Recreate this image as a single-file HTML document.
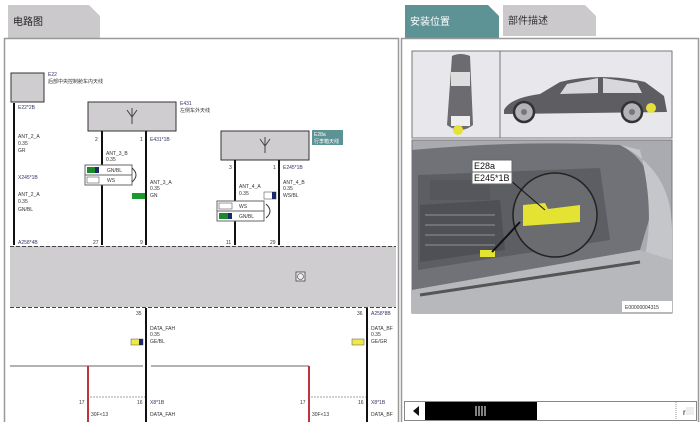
<!DOCTYPE html>
<html><head><meta charset="utf-8"><style>
html,body{margin:0;padding:0;background:#fff;width:700px;height:422px;overflow:hidden}
svg text{font-family:"Liberation Sans","Noto Sans CJK SC",sans-serif}
</style></head><body>
<svg width="700" height="422" viewBox="0 0 700 422" xmlns="http://www.w3.org/2000/svg">
<!-- tabs -->
<path d="M8 5 H89 L100 16 V38 H8 Z" fill="#ccc9cc"/>
<text x="13" y="25" font-size="10" fill="#222">电路图</text>
<path d="M405 5 H488 L499 16 V38 H405 Z" fill="#5e9396"/>
<text x="410" y="25" font-size="10" fill="#fff">安装位置</text>
<path d="M503 5 H585 L596 16 V36 H503 Z" fill="#ccc9cc"/>
<text x="508" y="24" font-size="10" fill="#333">部件描述</text>
<!-- panels -->
<rect x="4.5" y="38.5" width="394" height="390" fill="#fff" stroke="#999" stroke-width="1.5"/>
<rect x="401.5" y="38.5" width="297" height="390" fill="#fff" stroke="#999" stroke-width="1.5"/>

<!-- E22 -->
<rect x="11" y="73" width="33" height="29" fill="#d0cdd0" stroke="#333"/>
<text x="48" y="76" font-size="5" fill="#336">E22</text>
<text x="48" y="83" font-size="5" fill="#333">后部中央控制舱车内天线</text>
<line x1="14" y1="103" x2="14" y2="245" stroke="#111" stroke-width="2"/>
<text x="18" y="109" font-size="5" fill="#336">E22*2B</text>
<text x="18" y="138" font-size="5" fill="#333">ANT_2_A</text>
<text x="18" y="145" font-size="5" fill="#333">0.35</text>
<text x="18" y="152" font-size="5" fill="#333">GR</text>
<text x="18" y="179" font-size="5" fill="#336">X245*1B</text>
<text x="18" y="196" font-size="5" fill="#333">ANT_2_A</text>
<text x="18" y="203" font-size="5" fill="#333">0.35</text>
<text x="18" y="211" font-size="5" fill="#333">GN/BL</text>
<text x="18" y="244" font-size="5" fill="#336">A258*4B</text>

<!-- E431 -->
<rect x="88" y="102" width="88" height="29" fill="#d0cdd0" stroke="#333"/>
<path d="M132 108 V124 M127 110 L132 117 L137 110" stroke="#444" fill="none"/>
<text x="180" y="105" font-size="5" fill="#336">E431</text>
<text x="180" y="112" font-size="5" fill="#333">左侧车外天线</text>
<line x1="102" y1="131" x2="102" y2="245" stroke="#111" stroke-width="2"/>
<line x1="146" y1="131" x2="146" y2="245" stroke="#111" stroke-width="2"/>
<text x="95" y="141" font-size="5" fill="#333">2</text>
<text x="140" y="141" font-size="5" fill="#333">1</text>
<text x="150" y="141" font-size="5" fill="#336">E431*1B</text>
<text x="106" y="155" font-size="5" fill="#333">ANT_3_B</text>
<text x="106" y="161" font-size="5" fill="#333">0.35</text>
<rect x="85" y="165" width="47" height="20" fill="#fff" stroke="#666"/>
<line x1="85" y1="175" x2="132" y2="175" stroke="#666"/>
<rect x="87" y="167" width="12" height="6" fill="#1a8a2a"/><rect x="95" y="167" width="4" height="6" fill="#1b2a6a"/>
<rect x="87" y="177" width="12" height="6" fill="#fff" stroke="#555" stroke-width=".6"/>
<text x="107" y="172" font-size="5" fill="#333">GN/BL</text>
<text x="107" y="182" font-size="5" fill="#333">WS</text>
<path d="M132 168 Q140 175 132 182" stroke="#333" fill="none"/>
<text x="150" y="184" font-size="5" fill="#333">ANT_3_A</text>
<text x="150" y="190" font-size="5" fill="#333">0.35</text>
<rect x="132" y="193" width="13" height="6" fill="#1a9a2a"/>
<text x="150" y="197" font-size="5" fill="#333">GN</text>
<text x="93" y="244" font-size="5" fill="#333">27</text>
<text x="140" y="244" font-size="5" fill="#333">9</text>

<!-- E28a -->
<rect x="221" y="131" width="88" height="29" fill="#d0cdd0" stroke="#333"/>
<path d="M265 137 V153 M260 139 L265 146 L270 139" stroke="#444" fill="none"/>
<rect x="312" y="130" width="31" height="15" fill="#5e9396"/>
<text x="314" y="136" font-size="5" fill="#fff">E28a</text>
<text x="314" y="143" font-size="5" fill="#fff">行李箱天线</text>
<line x1="235" y1="160" x2="235" y2="245" stroke="#111" stroke-width="2"/>
<line x1="279" y1="160" x2="279" y2="245" stroke="#111" stroke-width="2"/>
<text x="229" y="169" font-size="5" fill="#333">3</text>
<text x="273" y="169" font-size="5" fill="#333">1</text>
<text x="283" y="169" font-size="5" fill="#336">E245*1B</text>
<text x="239" y="188" font-size="5" fill="#333">ANT_4_A</text>
<text x="239" y="195" font-size="5" fill="#333">0.35</text>
<rect x="264" y="192" width="12" height="7" fill="#fff" stroke="#555" stroke-width=".6"/><rect x="272" y="192" width="4" height="7" fill="#1b2a6a"/>
<text x="283" y="184" font-size="5" fill="#333">ANT_4_B</text>
<text x="283" y="190" font-size="5" fill="#333">0.35</text>
<text x="283" y="197" font-size="5" fill="#333">WS/BL</text>
<rect x="217" y="201" width="47" height="20" fill="#fff" stroke="#666"/>
<line x1="217" y1="211" x2="264" y2="211" stroke="#666"/>
<rect x="219" y="203" width="13" height="6" fill="#fff" stroke="#555" stroke-width=".6"/>
<rect x="219" y="213" width="13" height="6" fill="#1a8a2a"/><rect x="228" y="213" width="4" height="6" fill="#1b2a6a"/>
<text x="239" y="208" font-size="5" fill="#333">WS</text>
<text x="239" y="218" font-size="5" fill="#333">GN/BL</text>
<path d="M266 204 Q274 211 266 218" stroke="#333" fill="none"/>
<text x="226" y="244" font-size="5" fill="#333">11</text>
<text x="270" y="244" font-size="5" fill="#333">29</text>

<!-- module -->
<rect x="10" y="246" width="386" height="61" fill="#d0cdd0"/>
<line x1="10" y1="246.5" x2="396" y2="246.5" stroke="#444" stroke-dasharray="4 2"/>
<line x1="10" y1="307.5" x2="396" y2="307.5" stroke="#444" stroke-dasharray="4 2"/>
<rect x="296" y="272" width="9" height="9" fill="#eee" stroke="#444" stroke-width=".8"/>
<circle cx="300.5" cy="276.5" r="3" fill="none" stroke="#444" stroke-width=".6"/>

<!-- below -->
<line x1="146" y1="308" x2="146" y2="422" stroke="#111" stroke-width="2"/>
<line x1="367" y1="308" x2="367" y2="422" stroke="#111" stroke-width="2"/>
<text x="136" y="315" font-size="5" fill="#333">35</text>
<text x="357" y="315" font-size="5" fill="#333">36</text>
<text x="371" y="315" font-size="5" fill="#336">A258*8B</text>
<text x="150" y="330" font-size="5" fill="#333">DATA_FAH</text>
<text x="150" y="336" font-size="5" fill="#333">0.35</text>
<text x="150" y="343" font-size="5" fill="#333">GE/BL</text>
<rect x="131" y="339" width="12" height="6" fill="#f0e84a" stroke="#555" stroke-width=".5"/><rect x="139" y="339" width="4" height="6" fill="#1b2a6a"/>
<text x="371" y="330" font-size="5" fill="#333">DATA_BF</text>
<text x="371" y="336" font-size="5" fill="#333">0.35</text>
<text x="371" y="343" font-size="5" fill="#333">GE/GR</text>
<rect x="352" y="339" width="12" height="6" fill="#f0e84a" stroke="#555" stroke-width=".5"/>
<line x1="10" y1="366" x2="143" y2="366" stroke="#333" stroke-width=".8"/>
<line x1="151" y1="366" x2="309" y2="366" stroke="#333" stroke-width=".8"/>
<line x1="88" y1="366" x2="88" y2="422" stroke="#c0333a" stroke-width="2"/>
<line x1="309" y1="366" x2="309" y2="422" stroke="#c0333a" stroke-width="2"/>
<line x1="90" y1="397" x2="145" y2="397" stroke="#444" stroke-width=".6" stroke-dasharray="2 1"/>
<line x1="311" y1="397" x2="366" y2="397" stroke="#444" stroke-width=".6" stroke-dasharray="2 1"/>
<text x="79" y="404" font-size="5" fill="#333">17</text>
<text x="137" y="404" font-size="5" fill="#333">16</text>
<text x="150" y="404" font-size="5" fill="#336">X8*1B</text>
<text x="300" y="404" font-size="5" fill="#333">17</text>
<text x="358" y="404" font-size="5" fill="#333">16</text>
<text x="371" y="404" font-size="5" fill="#336">X8*1B</text>
<text x="91" y="416" font-size="5" fill="#333">30F&lt;13</text>
<text x="150" y="416" font-size="5" fill="#333">DATA_FAH</text>
<text x="312" y="416" font-size="5" fill="#333">30F&lt;13</text>
<text x="371" y="416" font-size="5" fill="#333">DATA_BF</text>

<!-- right images -->
<rect x="412" y="51" width="260" height="87" fill="#e8e8ec" stroke="#777"/>
<line x1="500" y1="51" x2="500" y2="138" stroke="#777"/>
<path d="M452 56 Q460 52 470 56 L473 125 Q460 135 447 125 Z" fill="#6c6c70"/>
<rect x="451" y="72" width="19" height="14" fill="#ddd"/>
<rect x="451" y="116" width="19" height="10" fill="#eee"/>
<circle cx="458" cy="130" r="5" fill="#e6e03a"/>
<path d="M504 110 Q510 98 540 94 L560 82 Q600 72 645 82 L664 96 L667 112 L504 114 Z" fill="#5e5e62"/>
<path d="M567 84 L598 78 L598 93 L560 94 Z M603 78 L637 83 L642 93 L603 93 Z" fill="#d8d8dc"/>
<circle cx="524" cy="112" r="10" fill="#b4b4b8" stroke="#333" stroke-width="2.5"/>
<circle cx="632" cy="112" r="10" fill="#b4b4b8" stroke="#333" stroke-width="2.5"/>
<circle cx="524" cy="112" r="3" fill="#777"/><circle cx="632" cy="112" r="3" fill="#777"/>
<circle cx="651" cy="108" r="5" fill="#e6e03a"/>
<!-- trunk photo -->
<rect x="412" y="140" width="260" height="173" fill="#a9abb0" stroke="#777"/>
<path d="M412 150 Q520 140 620 145 Q650 160 655 200 L640 250 L412 290 Z" fill="#707277"/>
<path d="M418 175 L600 168 L610 240 L418 270 Z" fill="#5c5e63"/>
<path d="M420 205 L500 200 L505 250 L420 262 Z" fill="#4e5055"/>
<path d="M425 215 H495 M425 225 H495 M425 235 H495 M425 245 H495" stroke="#7a7c80" stroke-width="1.5"/>
<rect x="430" y="180" width="60" height="20" fill="#55575c"/>
<path d="M620 145 Q672 170 672 230 L672 313 L620 313 Q665 250 640 150 Z" fill="#c4c6ca"/>
<path d="M412 290 L640 250 L672 260 L672 313 L412 313 Z" fill="#b6b8bc"/>
<path d="M420 295 L640 262" stroke="#555" stroke-width="3"/>
<circle cx="555" cy="215" r="42" fill="#6a6c70" stroke="#222" stroke-width="1.5"/>
<path d="M523 205 L545 203 L548 209 L580 205 L580 222 L523 226 Z" fill="#e4e232"/>
<rect x="480" y="250" width="15" height="7" fill="#e4e232"/>
<line x1="520" y1="222" x2="492" y2="252" stroke="#111" stroke-width="2"/>
<line x1="510" y1="180" x2="545" y2="210" stroke="#111"/>
<rect x="472" y="160" width="40" height="12" fill="#fff" stroke="#666"/>
<rect x="472" y="172" width="40" height="12" fill="#fff" stroke="#666"/>
<text x="474" y="169" font-size="9" fill="#111">E28a</text>
<text x="474" y="181" font-size="9" fill="#111">E245*1B</text>
<rect x="622" y="301" width="50" height="11" fill="#fff"/>
<text x="625" y="309" font-size="5" fill="#333">E00000004315</text>

<!-- scrollbar -->
<rect x="404.5" y="401.5" width="292" height="19" fill="#fff" stroke="#888"/>
<path d="M413 411 L419 406 V416 Z" fill="#111"/>
<rect x="425" y="402" width="112" height="18" fill="#000"/>
<path d="M476 406 V416 M479 406 V416 M482 406 V416 M485 406 V416" stroke="#fff"/>
<line x1="676" y1="402" x2="676" y2="420" stroke="#999" stroke-dasharray="1 1"/>
<rect x="686" y="407" width="8" height="8" fill="#eee"/>
<text x="683" y="415" font-size="8" fill="#111">r</text>
</svg>
</body></html>
